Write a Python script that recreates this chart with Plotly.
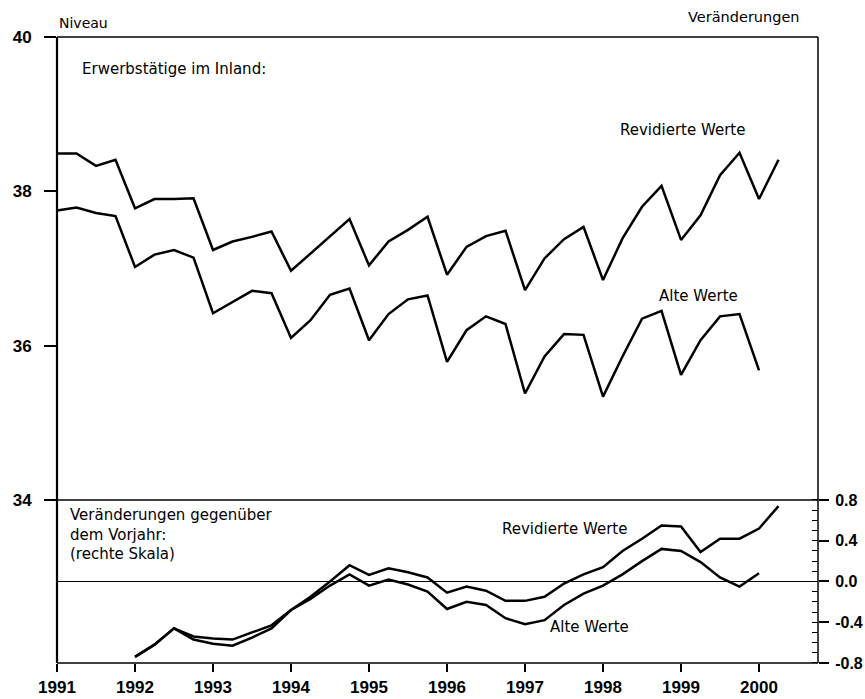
import plotly.graph_objects as go

# Erwerbstaetige im Inland, Quartalswerte (Mio.), ab 1991 Q1
start_year = 1991
years = list(range(1991, 2001))

niveau_revidiert = [38.49, 38.49, 38.33, 38.41, 37.78, 37.90, 37.90, 37.91, 37.24, 37.35,
                    37.41, 37.48, 36.97, 37.19, 37.42, 37.64, 37.04, 37.35, 37.50, 37.67,
                    36.92, 37.28, 37.42, 37.49, 36.72, 37.13, 37.38, 37.54, 36.85, 37.39,
                    37.80, 38.07, 37.37, 37.69, 38.21, 38.50, 37.90, 38.41]
niveau_alt = [37.75, 37.79, 37.72, 37.68, 37.02, 37.18, 37.24, 37.14, 36.42, 36.56,
              36.71, 36.68, 36.10, 36.33, 36.66, 36.74, 36.07, 36.41, 36.60, 36.65,
              35.79, 36.20, 36.38, 36.28, 35.38, 35.86, 36.15, 36.14, 35.34, 35.86,
              36.35, 36.45, 35.62, 36.07, 36.38, 36.41, 35.68]

# Veraenderungen gegenueber dem Vorjahr, ab 1992 Q1
change_start = 1992
veraend_revidiert = [-0.74, -0.62, -0.46, -0.54, -0.56, -0.57, -0.50, -0.43, -0.28, -0.15,
                     0.00, 0.16, 0.065, 0.13, 0.09, 0.04, -0.11, -0.05, -0.09, -0.19,
                     -0.19, -0.15, -0.02, 0.07, 0.14, 0.30, 0.42, 0.55, 0.54, 0.29,
                     0.42, 0.42, 0.52, 0.74]
veraend_alt = [-0.74, -0.62, -0.46, -0.57, -0.61, -0.63, -0.55, -0.46, -0.28, -0.17,
               -0.04, 0.07, -0.04, 0.02, -0.03, -0.10, -0.27, -0.20, -0.23, -0.36,
               -0.42, -0.38, -0.23, -0.12, -0.04, 0.07, 0.20, 0.32, 0.30, 0.19,
               0.04, -0.05, 0.08]

left_ticks = [34, 36, 38, 40]
right_ticks = [-0.8, -0.4, 0.0, 0.4, 0.8]
right_ticktext = ['-0.8', '-0.4', '0.0', '0.4', '0.8']

def quarters(start, n):
    return [start + i / 4 for i in range(n)]

split = 0.2604   # Grenze zwischen oberem und unterem Teil
text_font = dict(family = 'DejaVu Sans', size = 15, color = 'black')
tick_font = dict(family = 'Liberation Sans', size = 17, color = 'black', weight = 'bold')
right_tick_font = dict(family = 'Liberation Sans', size = 16, color = 'black', weight = 'bold')
line_style = dict(color = 'black', width = 2.5)

fig = go.Figure()
fig.add_trace(go.Scatter(x = quarters(start_year, len(niveau_revidiert)), y = niveau_revidiert,
                         mode = 'lines', line = line_style, name = 'Revidierte Werte', yaxis = 'y'))
fig.add_trace(go.Scatter(x = quarters(start_year, len(niveau_alt)), y = niveau_alt,
                         mode = 'lines', line = line_style, name = 'Alte Werte', yaxis = 'y'))
fig.add_trace(go.Scatter(x = quarters(change_start, len(veraend_revidiert)), y = veraend_revidiert,
                         mode = 'lines', line = line_style, name = 'Revidierte Werte (Veränderung)', yaxis = 'y2'))
fig.add_trace(go.Scatter(x = quarters(change_start, len(veraend_alt)), y = veraend_alt,
                         mode = 'lines', line = line_style, name = 'Alte Werte (Veränderung)', yaxis = 'y2'))

fig.update_layout(width = 865, height = 699, showlegend = False,
                  plot_bgcolor = 'white', paper_bgcolor = 'white',
                  margin = dict(l = 57, r = 47, t = 37, b = 36))
fig.update_layout(
    xaxis = dict(range = [1991, 2000.756], tickvals = years, ticktext = [str(y) for y in years],
                 ticks = 'outside', ticklen = 8, tickwidth = 1.5, tickcolor = 'black',
                 ticklabelstandoff = 1, tickfont = tick_font, showgrid = False, zeroline = False,
                 showline = False, anchor = 'y2', automargin = False),
    yaxis = dict(domain = [split, 1], range = [34, 40], tickvals = left_ticks,
                 ticks = 'outside', ticklen = 12, tickwidth = 1.5, tickcolor = 'black',
                 ticklabelstandoff = 9, tickfont = tick_font, showgrid = False, zeroline = False,
                 showline = False, anchor = 'x', automargin = False),
    yaxis2 = dict(domain = [0, split], range = [-0.8, 0.8], side = 'right',
                  tickvals = right_ticks, ticktext = right_ticktext,
                  ticks = 'outside', ticklen = 10, tickwidth = 1.5, tickcolor = 'black',
                  minor = dict(ticks = 'inside', dtick = 0.1, ticklen = 6, tickcolor = 'black', tickwidth = 1),
                  ticklabelstandoff = 3, tickfont = right_tick_font, showgrid = False,
                  zeroline = True, zerolinecolor = 'black', zerolinewidth = 1,
                  showline = False, anchor = 'x', automargin = False),
)

# Rahmen
frame = dict(type = 'line', xref = 'paper', yref = 'paper', line = dict(color = 'black', width = 1.5))
fig.add_shape(x0 = 0, x1 = 0, y0 = 0, y1 = 1, **{**frame, 'line': dict(color = 'black', width = 2.2)})
fig.add_shape(x0 = 1, x1 = 1, y0 = 0, y1 = 1, **frame)
fig.add_shape(x0 = 0, x1 = 1, y0 = 1, y1 = 1, **frame)
fig.add_shape(x0 = 0, x1 = 1, y0 = split, y1 = split, **frame)
fig.add_shape(x0 = 0, x1 = 1, y0 = 0, y1 = 0, **frame)

fig.add_annotation(text = 'Niveau', xref = 'paper', yref = 'paper', x = 0, y = 1.022,
                   xanchor = 'left', yanchor = 'middle', showarrow = False,
                   font = dict(family = 'DejaVu Sans', size = 14, color = 'black'))
fig.add_annotation(text = 'Veränderungen', xref = 'paper', yref = 'paper', x = 0.979, y = 1.032,
                   xanchor = 'right', yanchor = 'middle', showarrow = False,
                   font = dict(family = 'DejaVu Sans', size = 14.5, color = 'black'))
fig.add_annotation(text = 'Erwerbstätige im Inland:', xref = 'x', yref = 'y', x = 1991.29, y = 39.58,
                   xanchor = 'left', yanchor = 'middle', showarrow = False, font = text_font)
fig.add_annotation(text = 'Revidierte Werte', xref = 'x', yref = 'y', x = 1998.19, y = 38.795,
                   xanchor = 'left', yanchor = 'middle', showarrow = False, font = text_font)
fig.add_annotation(text = 'Alte Werte', xref = 'x', yref = 'y', x = 1998.69, y = 36.64,
                   xanchor = 'left', yanchor = 'middle', showarrow = False, font = text_font)
fig.add_annotation(text = 'Veränderungen gegenüber<br>dem Vorjahr:<br>(rechte Skala)',
                   xref = 'x', yref = 'y2', x = 1991.14, y = 0.46, align = 'left',
                   xanchor = 'left', yanchor = 'middle', showarrow = False, font = text_font)
fig.add_annotation(text = 'Revidierte Werte', xref = 'x', yref = 'y2', x = 1996.68, y = 0.517,
                   xanchor = 'left', yanchor = 'middle', showarrow = False, font = text_font)
fig.add_annotation(text = 'Alte Werte', xref = 'x', yref = 'y2', x = 1997.295, y = -0.449,
                   xanchor = 'left', yanchor = 'middle', showarrow = False, font = text_font)

# feste Groesse, kein Seitenrand, keine Werkzeugleiste
fig.write_html("out.html", config = {'responsive': False, 'displayModeBar': False},
               post_script = "document.body.style.margin='0';document.body.style.overflow='hidden';")
